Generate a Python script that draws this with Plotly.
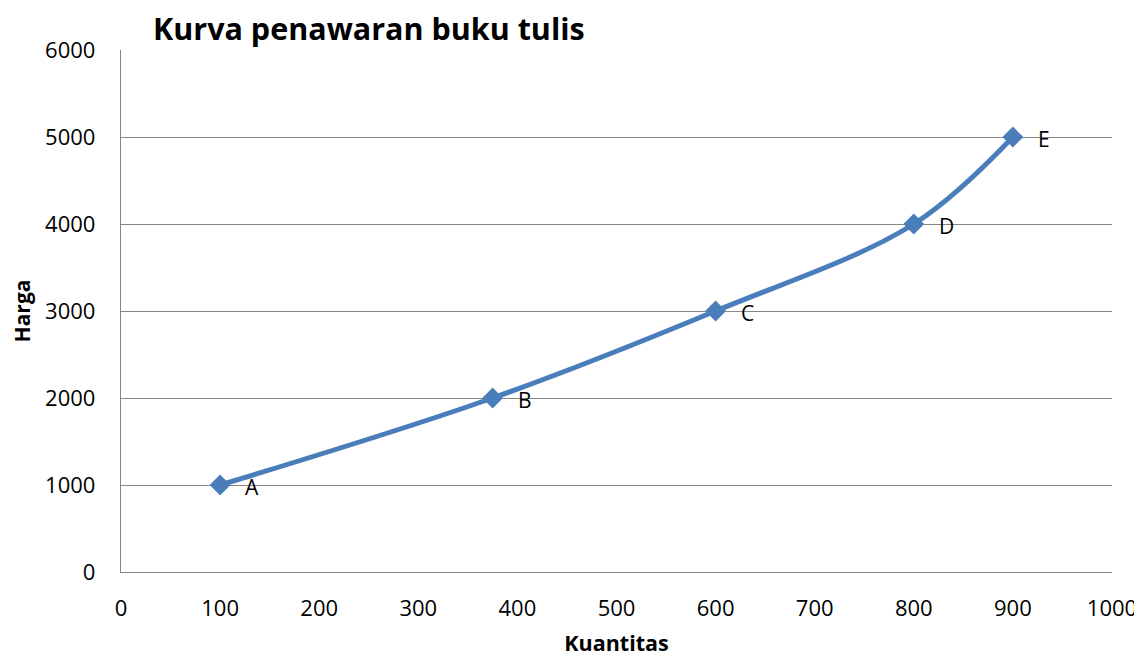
import plotly.graph_objects as go

kuantitas = [100, 375, 600, 800, 900]
harga = [1000, 2000, 3000, 4000, 5000]
labels = ["A", "B", "C", "D", "E"]

FONT = "Open Sans"
blue = "#4A7EBB"

fig = go.Figure()
fig.add_trace(go.Scatter(
    x=kuantitas, y=harga, mode="lines+markers",
    line=dict(color=blue, width=5, shape="spline", smoothing=1.0),
    marker=dict(symbol="diamond", size=16, color=blue),
    showlegend=False, hoverinfo="x+y"))

for xv, yv, t in zip(kuantitas, harga, labels):
    fig.add_annotation(x=xv, y=yv, text=t, showarrow=False, xanchor="left",
                       xshift=23, yshift=-2, font=dict(family=FONT, size=21, color="black"))

fig.update_layout(
    width=1134, height=650,
    margin=dict(l=113, r=30, t=42, b=86, autoexpand=False),
    paper_bgcolor="white", plot_bgcolor="white",
    font=dict(family=FONT, size=22, color="black"),
    title=dict(text="<b>Kurva penawaran buku tulis</b>", x=145/1134, xanchor="left",
               y=1 - 21/650, yanchor="middle", font=dict(family=FONT, size=30.5, color="black")),
    xaxis=dict(range=[0, 1000], dtick=100, showgrid=False, zeroline=False, automargin=False,
               showline=True, linecolor="#868686", linewidth=1.3, ticks="",
               tickfont=dict(size=22), ticklabelstandoff=16,
               title=dict(text="<b>Kuantitas</b>", font=dict(size=21.5), standoff=15)),
    yaxis=dict(range=[0, 6000], dtick=1000, showgrid=True, gridcolor="#868686", gridwidth=1.3,
               zeroline=False, showline=True, linecolor="#868686", linewidth=1.3, ticks="",
               automargin=False,
               tickfont=dict(size=22), ticklabelstandoff=20,
               title=dict(text="<b>Harga</b>", font=dict(size=21), standoff=11)),
)
fig.write_html("out.html")
